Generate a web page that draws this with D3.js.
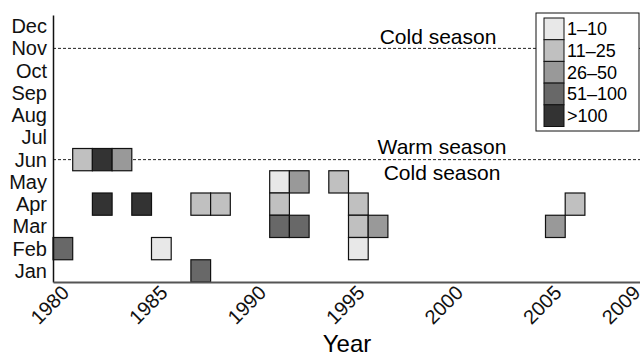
<!DOCTYPE html>
<html>
<head>
<meta charset="utf-8">
<script src="https://cdn.jsdelivr.net/npm/d3@7/dist/d3.min.js"></script>
<style>
  body { margin: 0; background: #fff; }
  svg { font-family: "Liberation Sans", Arial, Helvetica, sans-serif; }
</style>
</head>
<body>
<div id="chart"></div>
<script>
(function () {

  // data
  const monthLabels = ["Jan", "Feb", "Mar", "Apr", "May", "Jun", "Jul", "Aug", "Sep", "Oct", "Nov", "Dec"];
  const binLabels = ["1–10", "11–25", "26–50", "51–100", ">100"];
  const xTicks = [1980, 1985, 1990, 1995, 2000, 2005, 2009];

  const eventYears  = [1981, 1982, 1983, 1982, 1984, 1987, 1988, 1980, 1985, 1987,
                       1991, 1992, 1991, 1991, 1992, 1994, 1995, 1995, 1996, 1995, 2005, 2006];
  const eventMonths = [6, 6, 6, 4, 4, 4, 4, 2, 2, 1,
                       5, 5, 4, 3, 3, 5, 4, 3, 3, 2, 3, 4];
  const eventBins   = ["11–25", ">100", "26–50", ">100", ">100", "11–25", "11–25", "51–100", "1–10", "51–100",
                       "1–10", "26–50", "11–25", "51–100", "51–100", "11–25", "11–25", "11–25", "26–50", "1–10", "26–50", "11–25"];

  const seasonBreaks = [11, 6];

  // chart settings
  const svg_width = 640, svg_height = 355;
  const left = 53, right = 644, top = 15, bottom = 282;
  const binColors = ["#e8e8e8", "#c0c0c0", "#999999", "#686868", "#333333"];

  const x = d3.scaleLinear().domain([1980, 2010]).range([left, right]);
  const y = d3.scaleLinear().domain([0.5, 12.5]).range([bottom, top]);
  const color = d3.scaleOrdinal().domain(binLabels).range(binColors);

  const svg = d3.select("#chart").append("svg")
    .attr("width", svg_width)
    .attr("height", svg_height);

  // season lines
  svg.selectAll(".season")
    .data(seasonBreaks)
    .enter().append("line")
    .attr("x1", left).attr("x2", svg_width)
    .attr("y1", d => y(d)).attr("y2", d => y(d))
    .attr("stroke", "#222")
    .attr("stroke-width", 1)
    .attr("stroke-dasharray", "3,2");

  svg.append("text").attr("x", 438).attr("y", y(11) - 4)
    .attr("text-anchor", "middle").attr("font-size", 21).text("Cold season");
  svg.append("text").attr("x", 442).attr("y", y(6) - 6)
    .attr("text-anchor", "middle").attr("font-size", 21).text("Warm season");
  svg.append("text").attr("x", 442).attr("y", y(6) + 20)
    .attr("text-anchor", "middle").attr("font-size", 21).text("Cold season");

  // cells
  const cells = eventYears.map((yr, i) => ({ year: yr, month: eventMonths[i], bin: eventBins[i] }));
  svg.selectAll(".cell")
    .data(cells)
    .enter().append("rect")
    .attr("class", "cell")
    .attr("x", d => x(d.year))
    .attr("y", d => y(d.month + 0.5))
    .attr("width", d => x(d.year + 1) - x(d.year))
    .attr("height", d => y(d.month - 0.5) - y(d.month + 0.5))
    .attr("fill", d => color(d.bin))
    .attr("stroke", "#111")
    .attr("stroke-width", 1.2);

  // y axis
  const yAxis = svg.append("g")
    .attr("transform", "translate(" + left + ",0)")
    .call(d3.axisLeft(y)
      .tickValues(d3.range(1, 13))
      .tickSize(0).tickSizeOuter(0).tickPadding(6)
      .tickFormat(d => monthLabels[d - 1]));
  yAxis.select(".domain").attr("stroke", "#111").attr("stroke-width", 1.5);
  yAxis.selectAll("text").attr("font-size", 20).attr("fill", "#111").attr("font-family", null);

  // x axis
  const xAxis = svg.append("g")
    .attr("transform", "translate(0," + bottom + ")")
    .call(d3.axisBottom(x)
      .tickValues(xTicks.map(d => d + 0.5))
      .tickSize(0).tickSizeOuter(0)
      .tickFormat(d => d - 0.5));
  xAxis.select(".domain").attr("stroke", "#555").attr("stroke-width", 2);
  xAxis.selectAll("text")
    .attr("font-size", 20).attr("fill", "#111").attr("font-family", null)
    .attr("y", 0).attr("dy", 0).attr("dx", 0)
    .style("text-anchor", "end")
    .attr("transform", "translate(7,12) rotate(-45)");

  svg.append("text")
    .attr("x", 347).attr("y", 352)
    .attr("text-anchor", "middle")
    .attr("font-size", 24)
    .text("Year");

  // legend
  const lg = svg.append("g").attr("transform", "translate(536,13)");
  lg.append("rect")
    .attr("width", 103).attr("height", 118)
    .attr("fill", "#fff").attr("stroke", "#111").attr("stroke-width", 1);
  const rowH = 21.7;
  lg.selectAll(".sw")
    .data(binLabels)
    .enter().append("rect")
    .attr("x", 8).attr("y", (d, i) => 5 + i * rowH)
    .attr("width", 20).attr("height", rowH)
    .attr("fill", d => color(d))
    .attr("stroke", "#111").attr("stroke-width", 1);
  lg.selectAll(".lt")
    .data(binLabels)
    .enter().append("text")
    .attr("x", 31).attr("y", (d, i) => 5 + i * rowH + rowH / 2)
    .attr("dy", "0.36em")
    .attr("font-size", 18)
    .text(d => d);

})();
</script>
</body>
</html>
